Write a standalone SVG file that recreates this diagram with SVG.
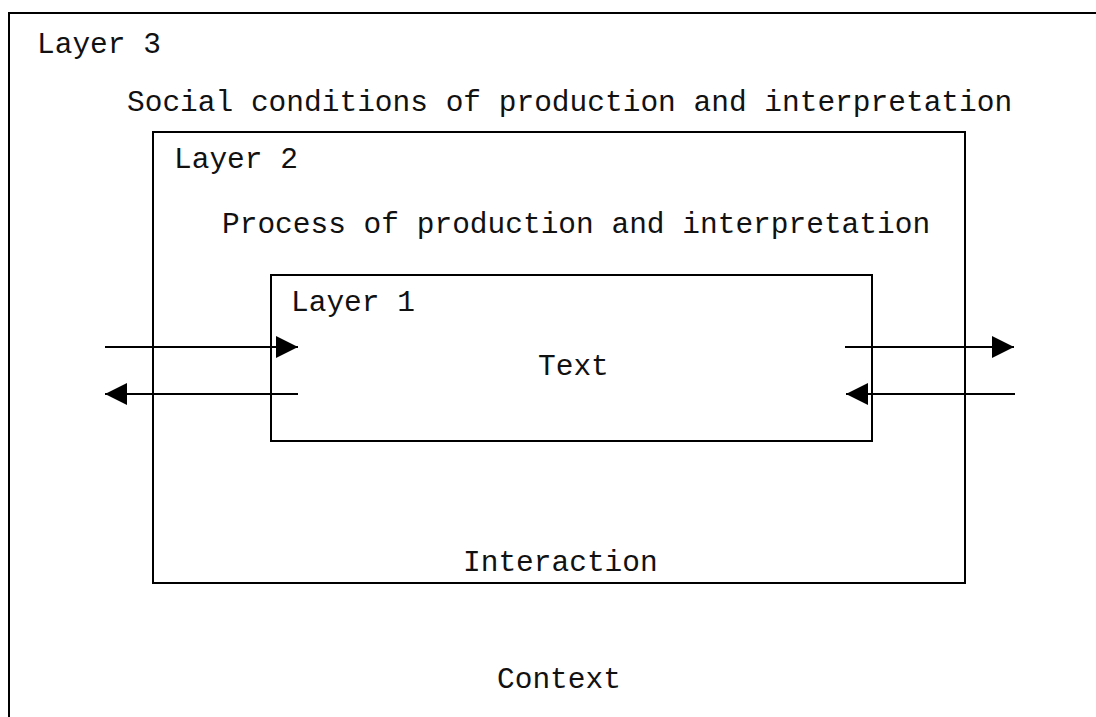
<svg xmlns="http://www.w3.org/2000/svg" width="1096" height="717" viewBox="0 0 1096 717">
  <style>
    .frame { fill: none; stroke: #000; stroke-width: 2; }
    .lbl { font-family: "Liberation Mono", "Courier New", monospace; font-size: 29.5px; fill: #111; }
    .flow { stroke: #000; stroke-width: 2; fill: none; marker-end: url(#head); }
  </style>
  <defs>
    <marker id="head" viewBox="0 0 22 22" refX="22" refY="11" markerWidth="22" markerHeight="22" markerUnits="userSpaceOnUse" orient="auto">
      <path d="M0,0 L22,11 L0,22 Z" fill="#000"/>
    </marker>
  </defs>
  <rect width="1096" height="717" fill="#fff"/>

  <!-- outermost layer: open at right and bottom -->
  <g id="layer3">
    <path class="frame" d="M9,717 L9,13 L1096,13"/>
    <text class="lbl" x="37" y="53">Layer 3</text>
    <text class="lbl" x="127" y="111">Social conditions of production and interpretation</text>
    <text class="lbl" x="497" y="688">Context</text>
  </g>

  <g id="layer2">
    <rect class="frame" x="153" y="132" width="812" height="451"/>
    <text class="lbl" x="174" y="168">Layer 2</text>
    <text class="lbl" x="222" y="233">Process of production and interpretation</text>
    <text class="lbl" x="463" y="571">Interaction</text>
  </g>

  <g id="layer1">
    <rect class="frame" x="271" y="275" width="601" height="166"/>
    <text class="lbl" x="291" y="311">Layer 1</text>
    <text class="lbl" x="538" y="375">Text</text>
  </g>

  <g id="connectors">
    <line class="flow" x1="105" y1="347" x2="298" y2="347"/>
    <line class="flow" x1="298" y1="394" x2="105" y2="394"/>
    <line class="flow" x1="845" y1="347" x2="1014" y2="347"/>
    <line class="flow" x1="1015" y1="394" x2="846" y2="394"/>
  </g>
</svg>
